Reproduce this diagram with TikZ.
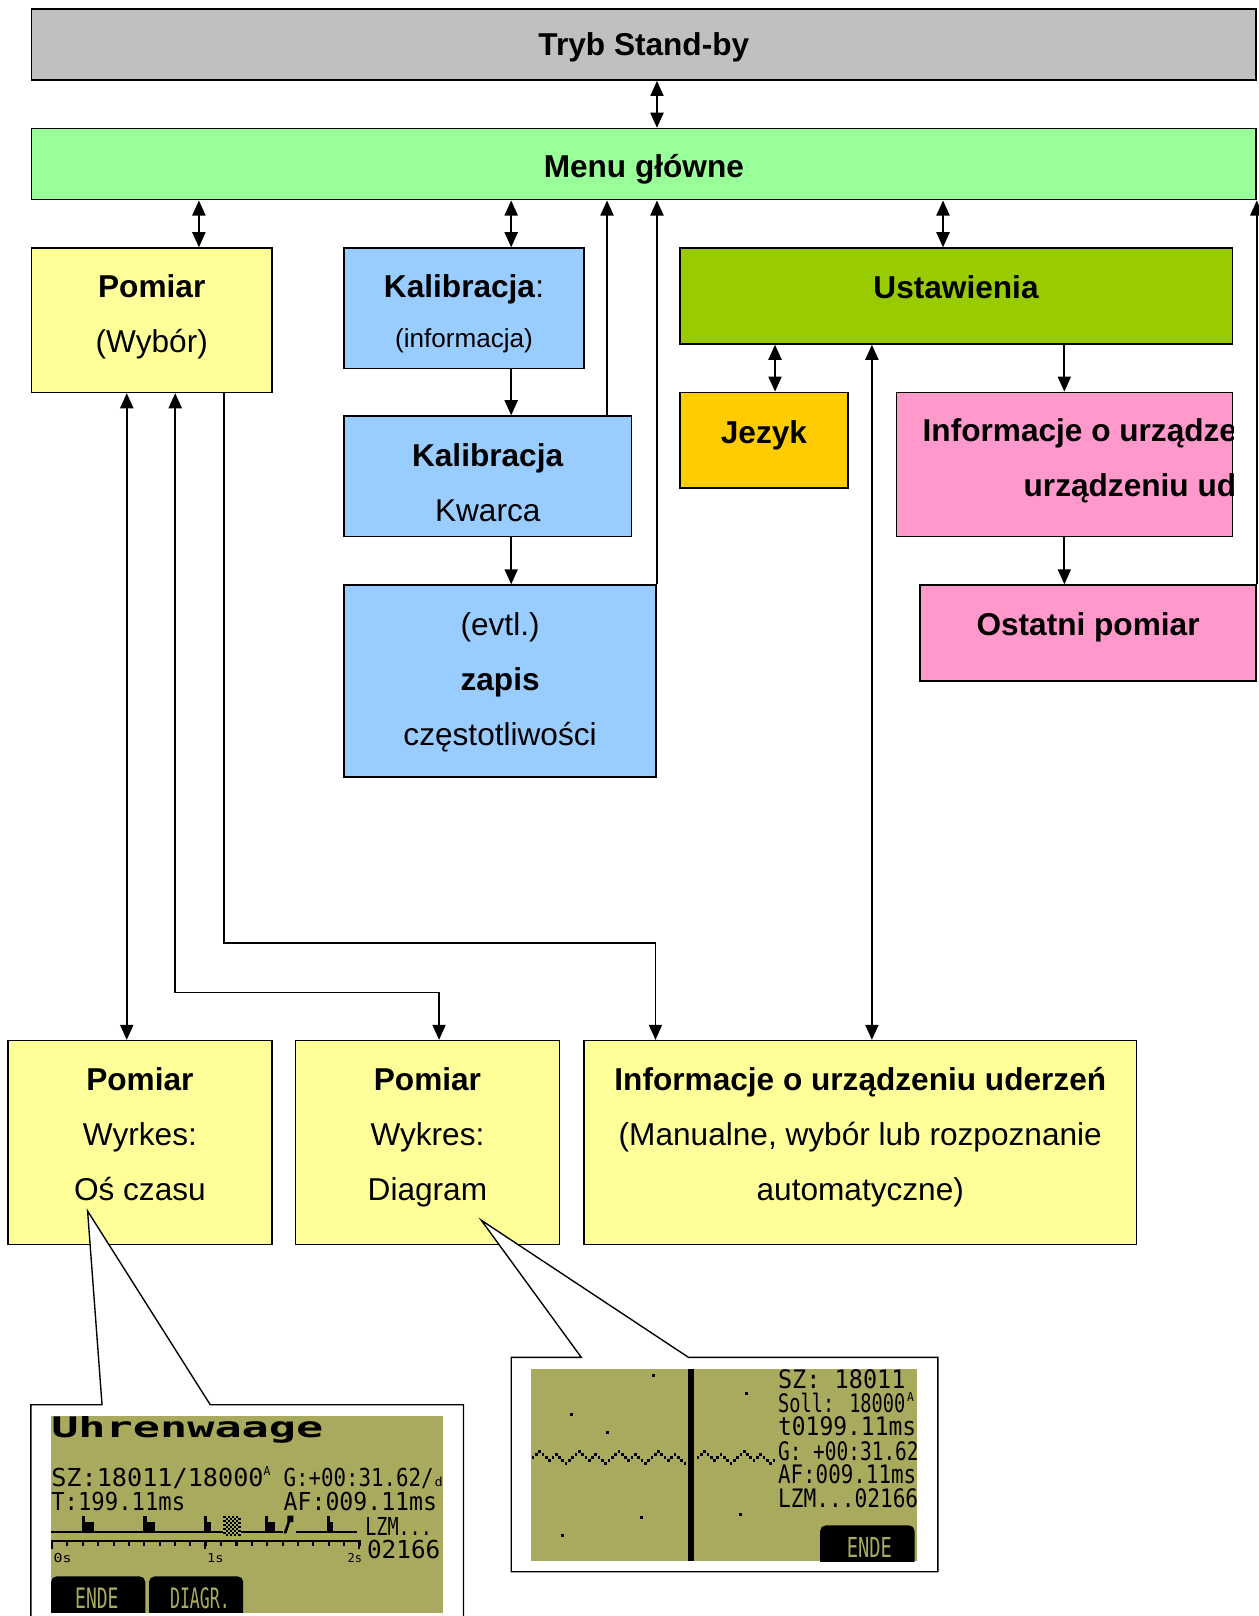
\documentclass[tikz,border=0pt]{standalone}
\usepackage{fontspec}
\usepackage{graphicx}
\setmainfont{Liberation Sans}
\newfontfamily\lcdfont{DejaVu Sans Mono}
\usetikzlibrary{arrows.meta}
\usetikzlibrary{positioning}

\definecolor{standby}{HTML}{C0C0C0}
\definecolor{menugreen}{HTML}{99FF99}
\definecolor{measyellow}{HTML}{FFFF99}
\definecolor{calblue}{HTML}{99CCFF}
\definecolor{setgreen}{HTML}{99CC00}
\definecolor{langorange}{HTML}{FFCC00}
\definecolor{infopink}{HTML}{FF99CC}
\definecolor{lcdolive}{RGB}{170,170,95}

% box text: first baseline below the box centre, lines
\newcommand{\boxtext}[2]{\raisebox{-#1}[0pt][0pt]{\begin{tabular}[t]{@{}c@{}}#2\end{tabular}}}
% LCD text: size, width, text
\newcommand{\lcdtext}[3]{{\lcdfont\fontsize{#1}{#1}\selectfont\resizebox{#2}{\height}{#3}}}

\tikzset{
  box/.style={draw, line width=1.1pt, anchor=north west, inner sep=0pt,
    font=\fontsize{23}{40}\selectfont},
  arr/.style={line width=1.4pt, -{Triangle[length=11pt,width=9.5pt]}},
  darr/.style={line width=1.4pt, {Triangle[length=11pt,width=9.5pt]}-{Triangle[length=11pt,width=9.5pt]}},
  callout/.style={draw, fill=white, line width=1pt},
  lcd/.style={anchor=base west, inner sep=0pt},
  softkey/.style={anchor=base, inner sep=0pt, text=lcdolive},
}

\begin{document}
\begin{tikzpicture}[x=0.75pt, y=-0.75pt]
  \useasboundingbox (0,0) rectangle (1221,1568);

  % boxes
  \node[box, fill=standby, minimum width=891pt, minimum height=51.75pt] (stby) at (30,8)
    {\boxtext{8.2pt}{\textbf{Tryb Stand-by}}};
  \node[box, fill=menugreen, minimum width=891pt, minimum height=51.75pt] (menu) at (30,124)
    {\boxtext{9.5pt}{\textbf{Menu główne}}};
  \node[box, fill=measyellow, minimum width=174.75pt, minimum height=105pt] (wybor) at (30,240)
    {\boxtext{-16.5pt}{\textbf{Pomiar}\\(Wybór)}};
  \node[box, fill=calblue, minimum width=174.75pt, minimum height=87.75pt] (kalinfo) at (333,240)
    {\boxtext{-7.9pt}{\textbf{Kalibracja}:\\[-3.6pt]{\fontsize{19}{19}\selectfont(informacja)}}};
  \node[box, fill=calblue, minimum width=209.25pt, minimum height=87.75pt] (kwarc) at (333,403)
    {\boxtext{-7.1pt}{\textbf{Kalibracja}\\Kwarca}};
  \node[box, fill=calblue, minimum width=227.25pt, minimum height=139.5pt] (zapis) at (333,567)
    {\boxtext{-33pt}{(evtl.)\\\textbf{zapis}\\częstotliwości}};
  \node[box, fill=setgreen, minimum width=402pt, minimum height=69.75pt] (ustaw) at (659,240)
    {\boxtext{1.5pt}{\textbf{Ustawienia}}};
  \node[box, fill=langorange, minimum width=122.25pt, minimum height=69.75pt] (jezyk) at (659,380)
    {\boxtext{2.3pt}{\textbf{Jezyk}}};
  \node[box, fill=infopink, minimum width=244.5pt, minimum height=105pt] (devinfo) at (869,380) {};
  \node[box, fill=infopink, minimum width=244.5pt, minimum height=69.75pt] (ostatni) at (892,567)
    {\boxtext{1.9pt}{\textbf{Ostatni pomiar}}};
  \node[box, fill=measyellow, minimum width=192pt, minimum height=148.5pt] (czas) at (7,1009)
    {\boxtext{-38.25pt}{\textbf{Pomiar}\\Wyrkes:\\Oś czasu}};
  \node[box, fill=measyellow, minimum width=192pt, minimum height=148.5pt] (diagram) at (286,1009)
    {\boxtext{-38.25pt}{\textbf{Pomiar}\\Wykres:\\Diagram}};
  \node[box, fill=measyellow, minimum width=402pt, minimum height=148.5pt] (uderzen) at (566,1009)
    {\boxtext{-38.25pt}{\textbf{Informacje o urządzeniu uderzeń}\\(Manualne, wybór lub rozpoznanie\\automatyczne)}};

  % clipped text of the pink box
  \begin{scope}
    \clip (devinfo.south west) rectangle (devinfo.north east);
    \node[anchor=base west, inner sep=0pt, font=\fontsize{23}{23}\selectfont\bfseries] (devinfoA) at (895,428) {Informacje o urządze};
    \node[anchor=base west, inner sep=0pt, font=\fontsize{23}{23}\selectfont\bfseries] (devinfoB) at (993,482) {urządzeniu ud};
  \end{scope}

  % arrow columns
  \coordinate (cWyb) at (193,0);
  \coordinate (cKal) at (496,0);
  \coordinate (cKw) at (589,0);
  \coordinate (cUst) at (915,0);
  \coordinate (cJez) at (752,0);
  \coordinate (cDev) at (846,0);
  \coordinate (cOs) at (123,0);
  \coordinate (bendA) at (170,963);
  \coordinate (bendB) at (426,963);
  \coordinate (bendC) at (217,915);
  \coordinate (bendD) at (636,915);

  \draw[darr] (stby.south -| zapis.north east) -- (menu.north -| zapis.north east);
  \draw[darr] (menu.south -| cWyb) -- (wybor.north -| cWyb);
  \draw[darr] (menu.south -| cKal) -- (kalinfo.north -| cKal);
  \draw[arr] (kalinfo.south -| cKal) -- (kwarc.north -| cKal);
  \draw[arr] (kwarc.south -| cKal) -- (zapis.north -| cKal);
  \draw[arr] (kwarc.north -| cKw) -- (menu.south -| cKw);
  \draw[arr] (zapis.north east) -- (menu.south -| zapis.north east);
  \draw[darr] (menu.south -| cUst) -- (ustaw.north -| cUst);
  \draw[darr] (ustaw.south -| cJez) -- (jezyk.north -| cJez);
  \draw[arr] (ustaw.south -| devinfo.north) -- (devinfo.north);
  \draw[arr] (devinfo.south) -- (ostatni.north -| devinfo.south);
  \draw[arr] (ostatni.north east) -- (menu.south -| ostatni.north east);
  \draw[darr] (ustaw.south -| cDev) -- (uderzen.north -| cDev);
  \draw[darr] (wybor.south -| cOs) -- (czas.north -| cOs);
  \draw[darr] (wybor.south -| bendA) -- (bendA) -- (bendB) -- (diagram.north -| bendB);
  \draw[arr] (wybor.south -| bendC) -- (bendC) -- (bendD) -- (uderzen.north -| bendD);

  % callout: time axis screen
  \coordinate (tipOs) at (85,1175);
  \draw[callout] (30,1575) -- (30,1363) -- (99,1363) -- (tipOs) -- (204,1363) -- (449.7,1363) -- (449.7,1575);
  \begin{scope}
    \clip (49.5,1374.4) rectangle (429.7,1565);
    \fill[lcdolive] (49.5,1374.4) rectangle (429.7,1565);
    \node[lcd] (lcdTitle) at (49.5,1395) {{\lcdfont\bfseries\fontsize{20.6}{20.6}\selectfont\resizebox{198pt}{\height}{Uhrenwaage}}};
    \node[lcd] (lcdSz) at (49.5,1442.5) {\lcdtext{18}{154.5pt}{SZ:18011/18000}};
    \node[lcd] (lcdSzA) at (255.6,1432) {\lcdtext{9}{5pt}{A}};
    \node[lcd] (lcdG) at (275,1442.5) {\lcdtext{18}{109.2pt}{G:+00:31.62/}};
    \node[lcd] (lcdGd) at (421.5,1442.5) {\lcdtext{9}{6pt}{d}};
    \node[lcd] (lcdT) at (49.5,1465.5) {\lcdtext{18}{97.5pt}{T:199.11ms}};
    \node[lcd] (lcdAf) at (275,1465.5) {\lcdtext{18}{111.6pt}{AF:009.11ms}};
    \node[lcd] (lcdLzm) at (354.2,1490) {\lcdtext{18}{48.5pt}{LZM...}};
    \node[lcd] (lcdNum) at (355.9,1512.5) {\lcdtext{18}{53.3pt}{02166}};
    % pulse track
    \fill (49.5,1485.5) rectangle (216.7,1487.8);
    \fill (233.6,1485.5) rectangle (275,1487.8);
    \fill (287.3,1485.5) rectangle (346.2,1487.8);
    \foreach \x/\w in {79.3/8.7, 139.1/8.1, 198/3.9, 257.2/6.5, 317/3.2}{
      \fill (\x,1470.5) rectangle ({\x+3.2},1487.8);
      \fill ({\x+3.2},1476.9) rectangle ({\x+3.2+\w},1487.8);
    }
    \foreach \b in {0,...,9}
      \foreach \a in {0,...,3}
        \fill ({216.7+4.2*\a+2.1*mod(\b,2)},{1470.5+2*\b}) rectangle +(2.1,2);
    \fill (275,1487.8) -- (278.9,1476.9) -- (278.9,1470.5) -- (284.7,1470.5) -- (284.7,1476.9) -- (281.5,1476.9) -- (278,1487.8) -- cycle;
    % time scale
    \fill (49.5,1494) rectangle (347.8,1496.3);
    \foreach \k in {0,...,20}
      \fill ({49.5+14.915*\k},1494) rectangle +(2,6.5);
    \foreach \k in {0,10,20}
      \fill ({49.5+14.915*\k-0.8},1494) rectangle +(2.4,9);
    \node[lcd] (lcdS0) at (51.8,1516) {\lcdtext{9}{13pt}{0s}};
    \node[lcd] (lcdS1) at (200.6,1516) {\lcdtext{9}{12pt}{1s}};
    \node[lcd] (lcdS2) at (337,1516) {\lcdtext{9}{10.5pt}{2s}};
    % soft keys
    \fill[rounded corners=4pt] (49.5,1580) rectangle (141,1529.6);
    \fill[rounded corners=4pt] (144.6,1580) rectangle (236,1529.6);
    \node[softkey] (keyEnde) at (94,1561) {\lcdtext{20.5}{31.5pt}{ENDE}};
    \node[softkey] (keyDiag) at (194,1561) {\lcdtext{20.5}{43.5pt}{DIAGR.}};
  \end{scope}

  % callout: diagram screen
  \coordinate (tipDia) at (467,1184);
  \draw[callout] (564,1317) -- (tipDia) -- (668,1317) -- (910,1317) -- (910,1525) -- (496,1525) -- (496,1317) -- cycle;
  \begin{scope}
    \clip (515,1328) rectangle (890,1515);
    \fill[lcdolive] (515,1328) rectangle (890,1515);
    \fill (668,1328) rectangle (673.2,1515);
    \foreach \x/\y in {634.1/1334.6, 724.6/1352.4, 554.8/1372.4, 589.4/1390.2, 622.7/1472.1, 718.8/1469.8, 545.7/1489.9}
      \fill ({\x-1.4},{\y-1.4}) rectangle +(2.8,2.8);
    \foreach \i in {0,...,46}{
      \pgfmathsetmacro\dy{{0,-3,-6,-3,0,3,0,-3,0,3,6,3}[mod(\i,12)]}
      \fill ({516+3.2*\i},{1413+\dy}) rectangle +(2.6,2.6);
    }
    \foreach \i in {0,...,23}{
      \pgfmathsetmacro\dy{{0,-3,-6,-3,0,3,0,-3,0,3,6,3}[mod(\i,12)]}
      \fill ({676+3.2*\i},{1413+\dy}) rectangle +(2.6,2.6);
    }
    \node[lcd] (lcdSzB) at (754.7,1347.5) {\lcdtext{18.5}{92.7pt}{SZ:  18011}};
    \node[lcd] (lcdSoll) at (754.7,1370.2) {\lcdtext{18.5}{92.7pt}{Soll: 18000}};
    \node[lcd] (lcdSollA) at (880,1360) {\lcdtext{9}{5pt}{A}};
    \node[lcd] (lcdTB) at (754.7,1392.8) {\lcdtext{18.5}{100.5pt}{t0199.11ms}};
    \node[lcd] (lcdGB) at (754.7,1417.1) {\lcdtext{18.5}{102.3pt}{G: +00:31.62}};
    \node[lcd] (lcdAfB) at (754.7,1439.7) {\lcdtext{18.5}{100.5pt}{AF:009.11ms}};
    \node[lcd] (lcdLzmB) at (754.7,1462.4) {\lcdtext{18.5}{102pt}{LZM...02166}};
    \fill[rounded corners=4pt] (795.8,1480.1) rectangle (887.4,1530);
    \node[softkey] (keyEndeB) at (843.5,1510.9) {\lcdtext{20}{32.8pt}{ENDE}};
  \end{scope}
\end{tikzpicture}
\end{document}
